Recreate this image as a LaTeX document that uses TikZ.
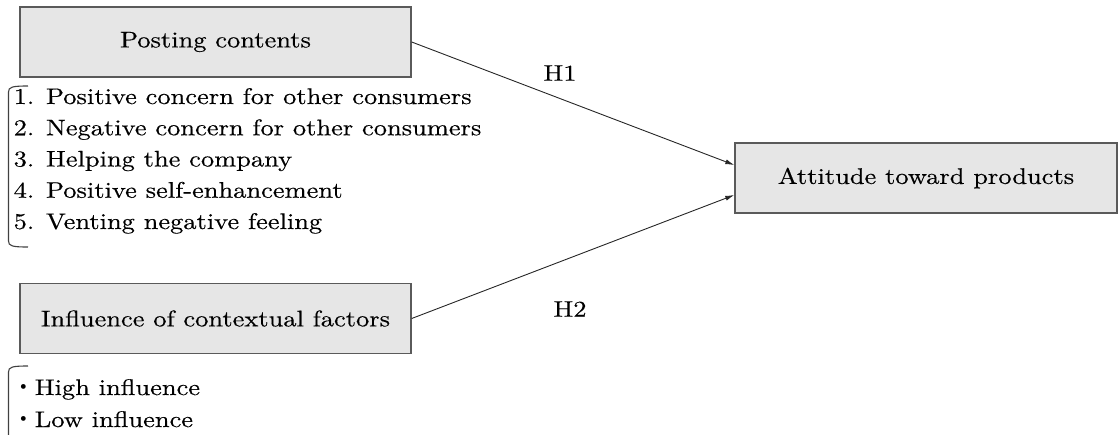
\documentclass[tikz,border=0pt]{standalone}
\usepackage{fontspec}
\setmainfont{lmroman10-regular.otf}[FakeStretch=1.17,FakeBold=0.35]
\newfontfamily\cjk{Noto Sans CJK JP}
\usetikzlibrary{arrows.meta}
\definecolor{boxfill}{HTML}{E6E6E6}
\definecolor{boxline}{HTML}{5A5A5A}
\begin{document}
\begin{tikzpicture}[x=1pt,y=-1pt,
  every node/.style={font=\fontsize{22.6}{31}\selectfont, text=black},
  box/.style={draw=boxline, line width=1.4pt, fill=boxfill, inner sep=0pt, minimum height=70pt},
  item/.style={anchor=base west, inner sep=0pt},
  link/.style={draw=black!85, line width=0.9pt, -{Latex[length=9pt,width=5pt]}},
  lab/.style={inner sep=0pt},
  brk/.style={draw=black!75, line width=1.1pt}
]
\useasboundingbox (0,0) rectangle (1118,434);

\node[box, minimum width=391pt] (post) at (215.5,42) {Posting contents};
\node[box, minimum width=391pt] (infl) at (215.5,318.5) {Influence of contextual factors};
\node[box, minimum width=382pt] (att) at (926,178) {Attitude toward products};

\node[item] (l1) at (13.5,104) {1. Positive concern for other consumers};
\node[item] (l2) at (13.5,135.25) {2. Negative concern for other consumers};
\node[item] (l3) at (13.5,166.5) {3. Helping the company};
\node[item] (l4) at (13.5,197.75) {4. Positive self-enhancement};
\node[item] (l5) at (13.5,229) {5. Venting negative feeling};

\node[item] (m1) at (12,395) {{\cjk ・}High influence};
\node[item] (m2) at (12,427) {{\cjk ・}Low influence};

\draw[brk] (28,86) .. controls (12,86) and (8.5,87) .. (8.5,92) -- (8.5,241) .. controls (8.5,246) and (12,247) .. (28,247);
\draw[brk] (28,366) .. controls (12,366) and (8.5,367) .. (8.5,372) -- (8.5,436);

\draw[link] (post.east) -- ([yshift=13pt]att.west);
\draw[link] (infl.east) -- ([yshift=-17pt]att.west);

\node[lab] (h1) at (560,73) {H1};
\node[lab] (h2) at (570,309) {H2};
\end{tikzpicture}
\end{document}
